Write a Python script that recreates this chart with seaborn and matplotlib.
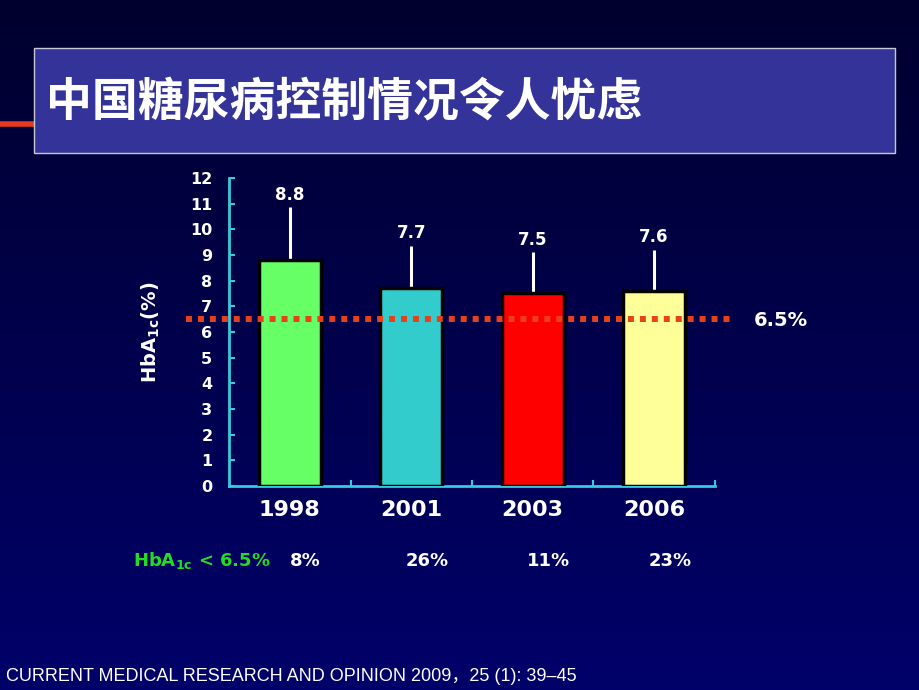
import numpy as np
import pandas as pd
import matplotlib
matplotlib.use('Agg')
import matplotlib.pyplot as plt
import matplotlib.transforms as mtransforms
import seaborn as sns
from matplotlib.patches import Rectangle
from matplotlib.lines import Line2D
from matplotlib.colors import LinearSegmentedColormap

# ========== DATA ==========
years = ['1998', '2001', '2003', '2006']
hba1c = [8.8, 7.7, 7.5, 7.6]
err_up = [2.05, 1.65, 1.6, 1.6]
below_target = ['8%', '26%', '11%', '23%']
target = 6.5
bar_colors = ['#66ff66', '#33cccc', '#ff0000', '#ffff99']

title = '中国糖尿病控制情况令人忧虑'
source = 'CURRENT MEDICAL RESEARCH AND OPINION 2009，25 (1): 39–45'

df = pd.DataFrame({'year': years, 'hba1c': hba1c})

axis_color = '#33ccdd'

# ========== FIGURE + BACKGROUND ==========
fig = plt.figure(figsize=(9.2, 6.9), dpi=100)
bg = fig.add_axes([0, 0, 1, 1], zorder=-10)
grad = np.linspace(0, 1, 256).reshape(-1, 1)
cmap = LinearSegmentedColormap.from_list('bg', ['#00002e', '#00006a'])
bg.imshow(grad, aspect='auto', cmap=cmap, extent=[0, 1, 0, 1], origin='upper')
bg.axis('off')

# title box and red accent line
fig.patches.append(Rectangle((0.037, 0.778), 0.936, 0.152, transform=fig.transFigure,
                             facecolor='#333399', edgecolor='#c8c8d8', lw=1, zorder=1))
fig.lines.append(Line2D([0, 0.037], [0.820, 0.820], transform=fig.transFigure,
                        color='#e8381e', lw=4, zorder=0))
fig.text(0.05, 0.851, title, color='white', fontsize=33, fontweight='bold',
         family=['Noto Sans CJK SC', 'DejaVu Sans'], va='center', ha='left', zorder=2)

# ========== BAR CHART ==========
ax = fig.add_axes([0.249, 0.2957, 0.528, 0.4464])
ax.set_facecolor('none')
sns.barplot(data=df, x='year', y='hba1c', hue='year', palette=bar_colors, legend=False,
            saturation=1, width=0.51, edgecolor='black', linewidth=2.5, ax=ax, zorder=3)
ax.errorbar(range(len(years)), hba1c, yerr=[np.zeros(len(years)), err_up], fmt='none',
            ecolor='white', elinewidth=2.2, capsize=0, zorder=2)
for i, (v, e) in enumerate(zip(hba1c, err_up)):
    ax.text(i, v + e + 0.15, f'{v}', color='white', fontsize=12, fontweight='bold',
            ha='center', va='bottom')

ax.axhline(target, xmin=-0.088, xmax=1.035, color='#e8401a', lw=4.3,
           linestyle=(0, (1, 1)), dash_capstyle='butt', clip_on=False, zorder=5)
ax.text(1.08, target - 0.05, f'{target}%', transform=ax.get_yaxis_transform(),
        color='white', fontsize=14, fontweight='bold', va='center', ha='left')

ax.set_xlim(-0.5, 3.5)
ax.set_ylim(0, 12)
ax.set_yticks(range(0, 13))
ax.set_xticks(range(len(years)))
ax.set_xticks([0.5, 1.5, 2.5, 3.5], minor=True)
for s in ['top', 'right']:
    ax.spines[s].set_visible(False)
for s in ['left', 'bottom']:
    ax.spines[s].set_color(axis_color)
    ax.spines[s].set_linewidth(2)
ax.tick_params(axis='y', direction='in', length=4, width=1.5, color=axis_color,
               labelcolor='white', labelsize=11.5, pad=12)
ax.tick_params(axis='x', which='major', length=0, labelcolor='white', labelsize=16, pad=10)
ax.tick_params(axis='x', which='minor', direction='in', length=4, width=1.5, color=axis_color)
for lab in ax.get_yticklabels() + ax.get_xticklabels():
    lab.set_fontweight('bold')
ax.set_xlabel('')
ax.set_ylabel(r'$\mathbf{HbA_{1c}(\%)}$', color='white', fontsize=14, labelpad=20)

# ========== BOTTOM ROW ==========
fig.text(0.145, 0.187, r'$\mathbf{HbA_{1c}}$ < 6.5%',
         color='#22dd22', fontsize=13, fontweight='bold', va='center', ha='left')
row_tr = mtransforms.blended_transform_factory(ax.transData, fig.transFigure)
for i, t in enumerate(below_target):
    ax.text(i + 0.13, 0.187, t, transform=row_tr,
            color='white', fontsize=13, fontweight='bold', va='center', ha='center')

fig.text(0.006, 0.02, source, color='white', fontsize=13,
         family=['Liberation Sans', 'Noto Sans CJK SC'], va='center', ha='left')

fig.savefig('out.png', dpi=100)
